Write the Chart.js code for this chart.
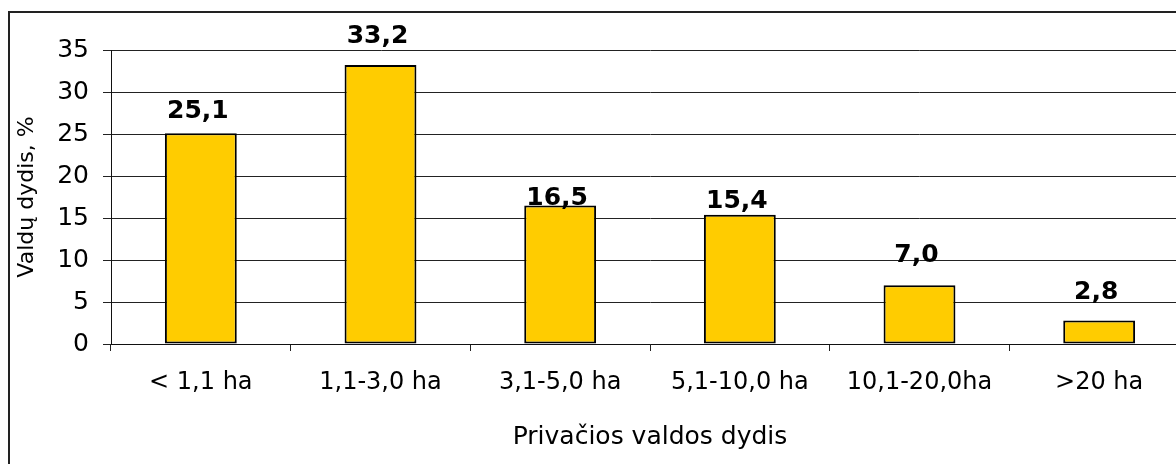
<!DOCTYPE html>
<html>
<head>
<meta charset="utf-8">
<script src="https://cdn.jsdelivr.net/npm/chart.js@4"></script>
<style>
	html, body { margin: 0; padding: 0; background: #fff; overflow: hidden; }
	#wrap { position: relative; width: 1176px; height: 464px; overflow: hidden; }
	#frame { position: absolute; left: 8px; top: 11px; width: 1200px; height: 500px; border: 2px solid #222; box-sizing: border-box; }
	#box { position: absolute; left: 0; top: 0; width: 1200px; height: 464px; }
</style>
</head>
<body>
<div id="wrap">
	<div id="frame"></div>
	<div id="box"><canvas id="row2"></canvas></div>
</div>
<script>
const categories = ['< 1,1 ha', '1,1-3,0 ha', '3,1-5,0 ha', '5,1-10,0 ha', '10,1-20,0ha', '>20 ha'];
const shares = [25.1, 33.2, 16.5, 15.4, 7.0, 2.8];
const yTicks = [0, 5, 10, 15, 20, 25, 30, 35];

// how far each value label sits above its bar (as placed in the original)
const labelGap = [15, 22, 0, 7, 23, 21];

const FONT = 'DejaVu Sans';

const valueLabels = {
	id: 'valueLabels',
	afterDatasetsDraw(chart) {
		const ctx = chart.ctx;
		const meta = chart.getDatasetMeta(0);
		ctx.save();
		ctx.font = 'bold 25px "' + FONT + '"';
		ctx.fillStyle = '#000';
		ctx.textAlign = 'center';
		ctx.textBaseline = 'alphabetic';
		meta.data.forEach((bar, i) => {
			ctx.fillText(shares[i].toFixed(1).replace('.', ','), bar.x - 3, bar.y - labelGap[i]);
		});
		ctx.restore();
	}
};

const ctx = document.getElementById('row2').getContext('2d');
new Chart(ctx, {
	type: 'bar',
	data: {
		labels: categories,
		datasets: [{
			data: shares,
			backgroundColor: '#FFCC00',
			borderColor: '#000',
			borderWidth: 2,
			borderSkipped: false,
			barPercentage: 0.4,
			categoryPercentage: 1,
		}],
	},
	options: {
		responsive: true,
		maintainAspectRatio: false,
		animation: false,
		events: [],
		layout: { padding: { top: 50, right: 11, left: 0, bottom: 0 } },
		plugins: {
			legend: { display: false },
			tooltip: { enabled: false },
		},
		scales: {
			x: {
				offset: true,
				grid: {
					offset: true,
					drawOnChartArea: false,
					color: '#222',
					tickLength: 7,
				},
				border: { color: '#111', width: 1 },
				ticks: {
					color: '#000',
					font: { family: FONT, size: 24 },
					padding: 17,
					maxRotation: 0,
					autoSkip: false,
				},
				title: {
					display: true,
					text: 'Privačios valdos dydis',
					color: '#000',
					font: { family: FONT, size: 25 },
					padding: { top: 0, bottom: 12 },
				},
				afterFit(scale) { scale.height = 120; },
			},
			y: {
				min: 0,
				max: 35,
				afterBuildTicks(scale) { scale.ticks = yTicks.map(v => ({ value: v })); },
				grid: {
					color: '#222',
					tickLength: 8,
				},
				border: { color: '#111', width: 1 },
				ticks: {
					color: '#000',
					font: { family: FONT, size: 25 },
					padding: 14,
				},
				title: {
					display: true,
					text: 'Valdų dydis, %',
					color: '#000',
					font: { family: FONT, size: 22 },
					padding: { top: 14, bottom: 0 },
				},
				afterFit(scale) { scale.width = 111; },
			},
		},
	},
	plugins: [valueLabels],
});
</script>
</body>
</html>
